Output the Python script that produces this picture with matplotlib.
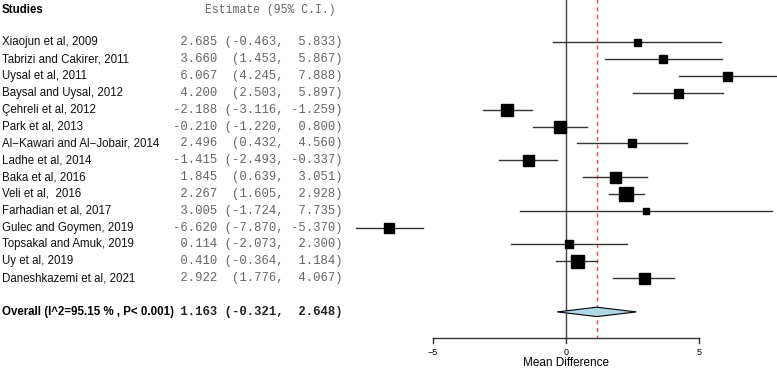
import matplotlib
matplotlib.use("Agg")
import matplotlib.pyplot as plt

studies = ["Xiaojun et al, 2009", "Tabrizi and Cakirer, 2011", "Uysal et al, 2011",
           "Baysal and Uysal, 2012", "Çehreli et al, 2012", "Park et al, 2013",
           "Al\u2212Kawari and Al\u2212Jobair, 2014", "Ladhe et al, 2014", "Baka et al, 2016",
           "Veli et al,  2016", "Farhadian et al, 2017", "Gulec and Goymen, 2019",
           "Topsakal and Amuk, 2019", "Uy et al, 2019", "Daneshkazemi et al, 2021"]
estimate = [2.685, 3.660, 6.067, 4.200, -2.188, -0.210, 2.496, -1.415, 1.845,
            2.267, 3.005, -6.620, 0.114, 0.410, 2.922]
lower = [-0.463, 1.453, 4.245, 2.503, -3.116, -1.220, 0.432, -2.493, 0.639,
         1.605, -1.724, -7.870, -2.073, -0.364, 1.776]
upper = [5.833, 5.867, 7.888, 5.897, -1.259, 0.800, 4.560, -0.337, 3.051,
         2.928, 7.735, -5.370, 2.300, 1.184, 4.067]
weights = [7, 8, 9, 9, 12, 12, 8, 11, 11, 14, 6, 10, 8, 13, 11]
overall_label = "Overall (I^2=95.15 % , P< 0.001)"
overall = (1.163, -0.321, 2.648)
xticks = [-5, 0, 5]
xlabel = "Mean Difference"

W, H = 777, 370
fig = plt.figure(figsize=(W / 100, H / 100), dpi=100)
ax = fig.add_axes([0, 0, 1, 1])
scale = 26.65
zero_px = 565.8
ax.set_xlim(-zero_px / scale, (W - zero_px) / scale)
row0, rowh = 42.3, 16.85
ax.set_ylim((H - row0) / rowh, -row0 / rowh)
ax.axis("off")

def fx(px):
    return px / W

sans = ["Liberation Sans", "DejaVu Sans"]
mono = ["Liberation Mono", "DejaVu Sans Mono"]
trans = ax.get_yaxis_transform()  # x in axes fraction, y in data

def fmt(e, l, u):
    return f"{e:6.3f} " + f"({l:.3f}".rjust(7) + ", " + f"{u:6.3f})"

n = len(studies)
ov_row = n + 1
axis_row = 17.52
fs = 8.3

# header
ax.text(fx(2), -1.92, "Studies", transform=trans, family=sans, fontsize=fs,
        fontweight="bold", va="center", ha="left")
ax.text(fx(270.5), -1.92, "Estimate (95% C.I.)", transform=trans, family=mono,
        fontsize=8.3, va="center", ha="center", color="#666666")

# reference lines
ax.plot([0, 0], [-2.6, axis_row], color="#444444", lw=1.0)
ax.plot([overall[0], overall[0]], [-2.6, axis_row], color="#ff4444", lw=1.0,
        ls=(0, (3, 2.5)))

for i in range(n):
    ax.text(fx(2), i, studies[i], transform=trans, family=sans, fontsize=fs,
            va="center", ha="left", color="#111111")
    ax.text(fx(343), i, fmt(estimate[i], lower[i], upper[i]), transform=trans,
            family=mono, fontsize=8.8, va="center", ha="right", color="#666666")
    ax.plot([lower[i], upper[i]], [i, i], color="#333333", lw=1.0, zorder=2)
    ax.plot([estimate[i]], [i], marker="s", color="black",
            markersize=weights[i] * 0.72, zorder=3, linestyle="none")

# overall
ax.text(fx(2), ov_row, overall_label, transform=trans, family=sans, fontsize=fs,
        fontweight="bold", va="center", ha="left")
ax.text(fx(343), ov_row, fmt(*overall), transform=trans, family=mono,
        fontsize=8.8, fontweight="bold", va="center", ha="right", color="#222222")
dh = 4.7 / rowh
e, l, u = overall
ax.fill([l, e, u, e], [ov_row, ov_row - dh, ov_row, ov_row + dh],
        facecolor="#add8e6", edgecolor="black", lw=0.8, zorder=4)

# x axis
ax.plot([xticks[0], xticks[-1]], [axis_row, axis_row], color="#333333", lw=1.0)
for t in xticks:
    ax.plot([t, t], [axis_row, axis_row + 5 / rowh], color="#333333", lw=1.0)
    ax.text(t, axis_row + 14.5 / rowh, "\u22125" if t < 0 else str(t),
            family=sans, fontsize=6.5, ha="center", va="center")
ax.text(0, axis_row + 25.5 / rowh, xlabel, family=sans, fontsize=8.5,
        ha="center", va="center")

fig.savefig("out.png", dpi=100)
